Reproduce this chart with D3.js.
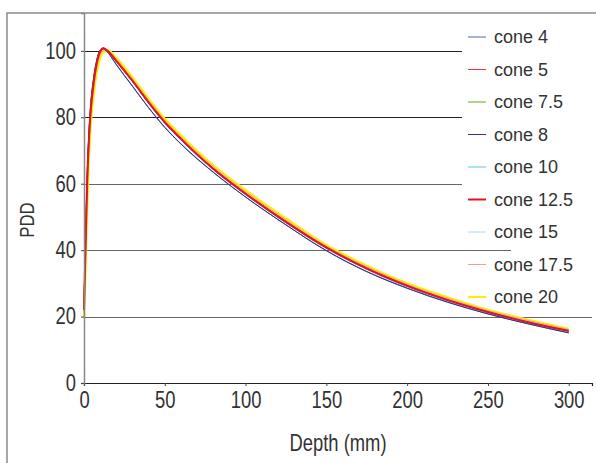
<!DOCTYPE html>
<html>
<head>
<meta charset="utf-8">
<script src="https://cdn.jsdelivr.net/npm/d3@7"></script>
<style>
  body { margin: 0; background: #fff; }
  text { fill: #333; }
</style>
</head>
<body>
<div class="chart"></div>
<script>
const depths = [0, 1, 2, 3, 4, 6, 8, 10, 12, 15, 20, 30, 40, 50, 60, 80, 100, 125, 150, 175, 200, 225, 250, 275, 300];

const cone4 = [24, 44, 63, 75, 83, 92, 97.5, 100.2, 100.6, 99.3, 95.8, 89.3, 82.8, 76.9, 71.9, 63.4, 56.0, 47.6, 39.9, 33.6, 28.6, 24.4, 20.8, 17.8, 15.1];
const cone5 = [23, 43, 62, 74, 82, 91, 97, 100.1, 100.9, 99.8, 96.8, 90.8, 84.3, 78.3, 73.3, 64.3, 56.8, 48.3, 40.6, 34.3, 29.1, 24.9, 21.3, 18.2, 15.6];
const cone75 = [22, 42, 61, 73, 81, 90.5, 96.5, 99.8, 100.6, 99.8, 96.9, 90.9, 84.5, 78.5, 73.5, 64.5, 57.0, 48.5, 40.8, 34.5, 29.3, 25.0, 21.4, 18.3, 15.7];
const cone8 = [24, 44, 63, 75, 83, 92, 97.5, 100.2, 100.7, 99.4, 95.9, 89.4, 82.9, 77.0, 72.0, 63.5, 56.0, 47.6, 39.8, 33.5, 28.5, 24.3, 20.8, 17.8, 15.1];
const cone10 = [22, 42, 61, 73, 81, 90.5, 96.5, 99.7, 100.5, 99.7, 96.8, 90.7, 84.2, 78.2, 73.2, 64.2, 56.7, 48.2, 40.5, 34.2, 29.0, 24.8, 21.2, 18.1, 15.5];
const cone125 = [22, 42, 61, 73, 81, 90.5, 96.5, 99.8, 100.8, 99.8, 97.0, 91.0, 84.5, 78.5, 73.5, 64.5, 57.0, 48.5, 40.8, 34.5, 29.3, 25.0, 21.4, 18.3, 15.7];
const cone15 = [21, 40, 59, 71, 80, 89.5, 95.8, 99.2, 100.3, 99.9, 97.2, 91.3, 84.8, 78.8, 73.8, 64.8, 57.3, 48.8, 41.0, 34.7, 29.5, 25.3, 21.6, 18.6, 15.9];
const cone175 = [21, 39, 58, 70, 79, 89, 95.3, 98.8, 100.1, 100, 97.4, 91.6, 85.1, 79.1, 74.1, 65.1, 57.6, 49.1, 41.2, 35.0, 29.7, 25.5, 21.8, 18.8, 16.1];
const cone20 = [20, 36, 55, 68, 77, 87, 94, 98, 99.6, 100, 97.8, 92.0, 85.5, 79.5, 74.5, 65.5, 58.0, 49.5, 41.5, 35.3, 30.0, 25.8, 22.0, 19.0, 16.3];

const seriesNames = ['cone 4', 'cone 5', 'cone 7.5', 'cone 8', 'cone 10', 'cone 12.5', 'cone 15', 'cone 17.5', 'cone 20'];
const seriesValues = [cone4, cone5, cone75, cone8, cone10, cone125, cone15, cone175, cone20];
const seriesColors = ['#5164a8', '#f2353a', '#96c85a', '#2e3192', '#5ac8e8', '#e3141c', '#a6dcef', '#f59a9a', '#ffec00'];
const seriesWidths = [1, 1, 1.5, 1, 1, 2, 1, 1, 2.5];
// drawing order: wide yellow underneath, reds on top
const drawOrder = [8, 7, 6, 4, 2, 0, 3, 1, 5];

const xTicks = [0, 50, 100, 150, 200, 250, 300];
const yTicks = [0, 20, 40, 60, 80, 100];
const gridValues = [20, 40, 60, 80, 100];

const chartWidth = 596;
const chartHeight = 463;

const margin = { left: 84, right: 4, top: 13, bottom: 80 };
const narrow = 'scale(0.8, 1)';
const fontFamily = '"Liberation Sans", Arial, sans-serif';

const svg = d3.select('.chart')
  .append('svg')
  .attr('width', chartWidth)
  .attr('height', chartHeight);

// outer frame, cropped on the right and bottom
svg.append('rect')
  .attr('x', 7)
  .attr('y', 13)
  .attr('width', 620)
  .attr('height', 480)
  .attr('fill', 'none')
  .attr('stroke', '#8a8a8a')
  .attr('stroke-width', 1.5);

const xScale = d3.scaleLinear()
  .domain([0, 314.4])
  .range([margin.left, chartWidth - margin.right]);

const yScale = d3.scaleLinear()
  .domain([0, 111.4])
  .range([chartHeight - margin.bottom, margin.top]);

// gridlines
svg.append('g')
  .selectAll('line')
  .data(gridValues)
  .enter()
  .append('line')
  .attr('x1', xScale(0))
  .attr('x2', xScale(314.4))
  .attr('y1', d => Math.round(yScale(d)) + 0.5)
  .attr('y2', d => Math.round(yScale(d)) + 0.5)
  .attr('stroke', d => d >= 80 ? '#222' : '#666')
  .attr('stroke-width', 1);

// legend backgrounds hide the gridlines behind the legend
svg.append('rect')
  .attr('x', 462).attr('y', 20)
  .attr('width', 140).attr('height', 222)
  .attr('fill', '#fff');
svg.append('rect')
  .attr('x', 511).attr('y', 242)
  .attr('width', 90).attr('height', 36)
  .attr('fill', '#fff');

// curves
const line = d3.line()
  .x((d, i) => xScale(depths[i]))
  .y(d => yScale(d))
  .curve(d3.curveMonotoneX);

svg.append('g')
  .selectAll('path')
  .data(drawOrder)
  .enter()
  .append('path')
  .attr('d', i => line(seriesValues[i]))
  .attr('fill', 'none')
  .attr('stroke', i => seriesColors[i])
  .attr('stroke-width', i => seriesWidths[i])
  .attr('stroke-linejoin', 'round');

// axes
const xAxis = d3.axisBottom(xScale)
  .tickValues(xTicks)
  .tickSize(3)
  .tickPadding(6);
const gx = svg.append('g')
  .attr('transform', `translate(0, ${yScale(0)})`)
  .call(xAxis);
gx.select('.domain').attr('stroke', '#222').attr('stroke-width', 1.2);
gx.selectAll('.tick line').attr('stroke', '#444');
gx.selectAll('text')
  .attr('font-family', fontFamily)
  .attr('font-size', '23px')
  .attr('transform', narrow)
  .attr('fill', '#333');

const yAxis = d3.axisLeft(yScale)
  .tickValues(yTicks)
  .tickSize(3)
  .tickPadding(5);
const gy = svg.append('g')
  .attr('transform', `translate(${xScale(0)}, 0)`)
  .call(yAxis);
gy.select('.domain').attr('stroke', '#888').attr('stroke-width', 1.5);
gy.selectAll('.tick line').attr('stroke', '#444');
gy.selectAll('text')
  .attr('font-family', fontFamily)
  .attr('font-size', '23px')
  .attr('x', -10)
  .attr('transform', narrow)
  .attr('fill', '#333');

// axis titles
svg.append('text')
  .attr('transform', `translate(${(xScale(0) + xScale(314.4)) / 2}, 451) ${narrow}`)
  .attr('text-anchor', 'middle')
  .attr('font-family', fontFamily)
  .attr('font-size', '23px')
  .text('Depth (mm)');

svg.append('text')
  .attr('transform', `translate(34, 220) rotate(-90) ${narrow}`)
  .attr('text-anchor', 'middle')
  .attr('font-family', fontFamily)
  .attr('font-size', '21px')
  .text('PDD');

// legend
const legend = svg.append('g')
  .selectAll('g')
  .data(seriesNames)
  .enter()
  .append('g')
  .attr('transform', (d, i) => `translate(468, ${37 + i * 32.5})`);
legend.append('line')
  .attr('x1', 0)
  .attr('x2', 18)
  .attr('stroke', (d, i) => seriesColors[i])
  .attr('stroke-width', (d, i) => Math.min(seriesWidths[i], 2));
legend.append('text')
  .attr('x', 26)
  .attr('dy', '0.35em')
  .attr('font-family', fontFamily)
  .attr('font-size', '18px')
  .text(d => d);
</script>
</body>
</html>
